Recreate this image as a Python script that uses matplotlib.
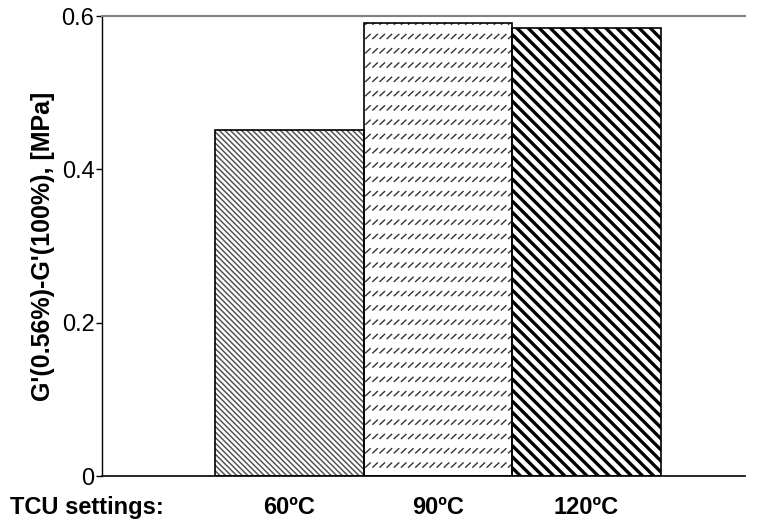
import warnings
import numpy as np
import matplotlib
matplotlib.use('Agg')
import matplotlib.pyplot as plt
import matplotlib.hatch as mhatch
from matplotlib.path import Path

warnings.filterwarnings('ignore')

# bar data
categories = ['60ºC', '90ºC', '120ºC']
values = [0.451, 0.591, 0.585]
row_label = 'TCU settings:'
yticks = [0, 0.2, 0.4, 0.6]
ytick_labels = ['0', '0.2', '0.4', '0.6']

# fill styles per bar
hatches = ['\\\\\\\\\\\\', 'd', '\\\\\\']
hatch_colors = ['#555555', '#333333', 'black']
hatch_widths = [1.1, 1.0, 2.4]


class DashRowHatch(mhatch.HatchPatternBase):
    """Rows of short rising dashes, used for the hatch letter 'd'."""
    def __init__(self, hatch, density):
        n = hatch.count('d')
        self.rows = 7 * n
        self.cols = 14 * n
        self.num_vertices = 2 * self.rows * self.cols

    def set_vertices_and_codes(self, vertices, codes):
        xs = (np.arange(self.cols) + 0.2) / self.cols
        ys = (np.arange(self.rows) + 0.3) / self.rows
        gx, gy = np.meshgrid(xs, ys)
        gx = gx.ravel()
        gy = gy.ravel()
        vertices[0::2, 0] = gx
        vertices[0::2, 1] = gy
        vertices[1::2, 0] = gx + 0.045
        vertices[1::2, 1] = gy + 0.042
        codes[0::2] = Path.MOVETO
        codes[1::2] = Path.LINETO


mhatch._hatch_types.append(DashRowHatch)

plt.rcParams['font.family'] = ['Liberation Sans', 'DejaVu Sans']

fig = plt.figure(figsize=(7.62, 5.22), dpi=100)
ax = fig.add_axes([0.134, 0.088, 0.844, 0.881])

x = np.arange(1, len(values) + 1)

# hatched fill first, then the black outline on top
for xi, v, h, hc, hw in zip(x, values, hatches, hatch_colors, hatch_widths):
    plt.rcParams['hatch.linewidth'] = hw
    b = ax.bar(xi, v, width=1.0, color='white', edgecolor=hc,
               linewidth=0, hatch=h)
    for p in b.patches:
        if hasattr(p, 'set_hatch_linewidth'):
            p.set_hatch_linewidth(hw)
ax.bar(x, values, width=1.0, facecolor='none', edgecolor='black', linewidth=1.2)

ax.set_xlim(-0.26, 4.07)
ax.set_ylim(0, 0.6)

ax.set_yticks(yticks)
ax.set_yticklabels(ytick_labels, fontsize=17)
ax.tick_params(axis='y', direction='out', length=4.5, width=1, pad=1)

ax.set_xticks(x)
ax.set_xticklabels(categories, fontsize=17, fontweight='bold')
ax.tick_params(axis='x', length=0, pad=14)

ax.annotate(row_label, xy=(-0.36, 0), xycoords=('data', 'axes fraction'),
            xytext=(0, -14), textcoords='offset points',
            ha='center', va='top', fontsize=17, fontweight='bold',
            annotation_clip=False)

ax.set_ylabel("G'(0.56%)-G'(100%), [MPa]", fontsize=18, fontweight='bold',
              labelpad=5)

ax.spines['right'].set_visible(False)
ax.spines['top'].set_color('#808080')
ax.spines['top'].set_linewidth(1.5)
ax.spines['left'].set_linewidth(1)
ax.spines['bottom'].set_linewidth(1.2)

fig.savefig('out.png', dpi=100)
